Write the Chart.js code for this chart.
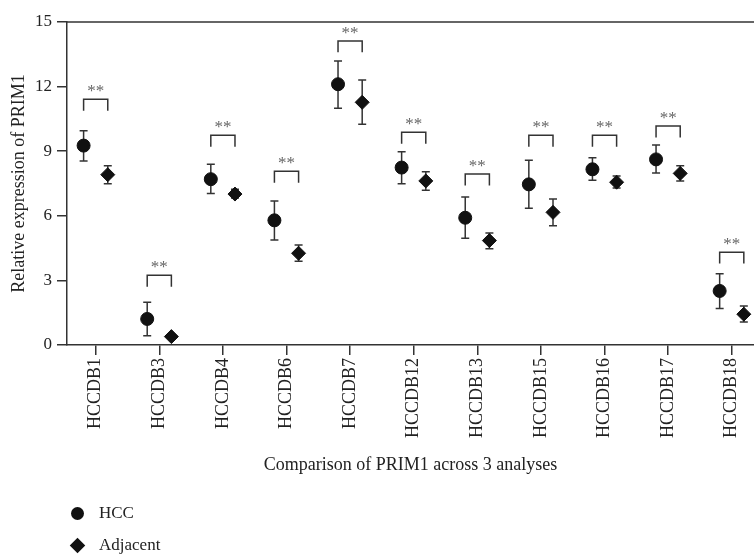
<!DOCTYPE html>
<html>
<head>
<meta charset="utf-8">
<script src="https://cdn.jsdelivr.net/npm/chart.js@4/dist/chart.umd.min.js"></script>
<style>
  html, body { margin: 0; background: #fff; overflow: hidden; }
  #wrap { position: relative; width: 754px; height: 554px; overflow: hidden; }
  #inner { position: absolute; left: 0; top: 0; width: 762px; height: 554px; }
  #legend { position: absolute; left: 70px; top: 497px; font-family: "Liberation Serif", serif; font-size: 17px; color: #222; }
  #legend div { display: flex; align-items: center; height: 32px; }
  .sym { width: 15px; height: 15px; margin-right: 14px; display: flex; align-items: center; justify-content: center; }
  .circ { width: 13px; height: 13px; border-radius: 50%; background: #111; }
  .diam { width: 11px; height: 11px; background: #111; transform: rotate(45deg); }
</style>
</head>
<body>
<div id="wrap">
  <div id="inner"><canvas id="myChart"></canvas></div>
  <div id="legend">
    <div><span class="sym"><span class="circ"></span></span>HCC</div>
    <div><span class="sym"><span class="diam"></span></span>Adjacent</div>
  </div>
</div>
<script>
const categories = ['HCCDB1', 'HCCDB3', 'HCCDB4', 'HCCDB6', 'HCCDB7', 'HCCDB12', 'HCCDB13', 'HCCDB15', 'HCCDB16', 'HCCDB17', 'HCCDB18'];
const hccMean  = [9.26, 1.21, 7.70, 5.79, 12.11, 8.24, 5.91, 7.46, 8.16, 8.62, 2.51];
const hccUpper = [9.95, 1.98, 8.39, 6.69, 13.19, 8.98, 6.87, 8.58, 8.70, 9.29, 3.31];
const hccLower = [8.55, 0.43, 7.03, 4.88, 10.99, 7.49, 4.96, 6.35, 7.65, 7.99, 1.69];
const adjMean  = [7.91, 0.39, 7.01, 4.26, 11.27, 7.62, 4.85, 6.16, 7.56, 7.97, 1.43];
const adjUpper = [8.33, 0.42, 7.23, 4.64, 12.31, 8.04, 5.20, 6.78, 7.85, 8.33, 1.81];
const adjLower = [7.49, 0.36, 6.83, 3.89, 10.25, 7.19, 4.47, 5.54, 7.29, 7.62, 1.07];
const bracketTop = [11.41, 3.24, 9.74, 8.07, 14.12, 9.88, 7.94, 9.74, 9.74, 10.17, 4.31];
const sigLabels = ['**', '**', '**', '**', '**', '**', '**', '**', '**', '**', '**'];
const yTicks = [0, 3, 6, 9, 12, 15];

const SHIFT = 0.19;
const serif = '"Liberation Serif", "Times New Roman", serif';

const errorBars = {
    id: 'errorBars',
    beforeDatasetsDraw(chart) {
        const { ctx, scales: { x, y } } = chart;
        ctx.save();
        ctx.strokeStyle = '#333';
        ctx.lineWidth = 1.5;
        const bar = (xv, lo, hi) => {
            const px = x.getPixelForValue(xv);
            const t = y.getPixelForValue(hi), b = y.getPixelForValue(lo);
            ctx.beginPath();
            ctx.moveTo(px, t); ctx.lineTo(px, b);
            ctx.moveTo(px - 4, t); ctx.lineTo(px + 4, t);
            ctx.moveTo(px - 4, b); ctx.lineTo(px + 4, b);
            ctx.stroke();
        };
        categories.forEach((c, i) => {
            bar(i - SHIFT, hccLower[i], hccUpper[i]);
            if (adjUpper[i] - adjLower[i] > 0.1) bar(i + SHIFT, adjLower[i], adjUpper[i]);
        });
        ctx.restore();
    },
    afterDraw(chart) {
        const { ctx, scales: { x, y } } = chart;
        ctx.save();
        ctx.strokeStyle = '#333';
        ctx.lineWidth = 1.5;
        categories.forEach((c, i) => {
            const x1 = x.getPixelForValue(i - SHIFT), x2 = x.getPixelForValue(i + SHIFT);
            const t = y.getPixelForValue(bracketTop[i]), b = y.getPixelForValue(bracketTop[i] - 0.53);
            ctx.beginPath();
            ctx.moveTo(x1, b); ctx.lineTo(x1, t); ctx.lineTo(x2, t); ctx.lineTo(x2, b);
            ctx.stroke();
            ctx.fillStyle = '#666';
            ctx.font = '17px ' + serif;
            ctx.textAlign = 'center';
            ctx.textBaseline = 'bottom';
            ctx.fillText(sigLabels[i], (x1 + x2) / 2, t + 1);
        });
        // top frame line
        ctx.beginPath();
        ctx.moveTo(chart.chartArea.left, chart.chartArea.top);
        ctx.lineTo(chart.chartArea.right, chart.chartArea.top);
        ctx.stroke();
        ctx.restore();
    }
};

const data = {
    datasets: [{
        label: 'HCC',
        data: hccMean.map((v, i) => ({ x: i - SHIFT, y: v })),
        pointStyle: 'circle',
        pointRadius: 6.5,
        backgroundColor: '#111',
        borderColor: '#111'
    },
    {
        label: 'Adjacent',
        data: adjMean.map((v, i) => ({ x: i + SHIFT, y: v })),
        pointStyle: 'rectRot',
        pointRadius: 7,
        backgroundColor: '#111',
        borderColor: '#111'
    }]
};

const config = {
    type: 'scatter',
    data,
    options: {
        responsive: true,
        maintainAspectRatio: false,
        animation: false,
        layout: { padding: { left: 8, top: 22, right: 0, bottom: 78 } },
        plugins: { legend: { display: false }, tooltip: { enabled: false } },
        scales: {
            x: {
                type: 'linear',
                min: -0.451,
                max: 10.35,
                afterBuildTicks: (s) => { s.ticks = categories.map((c, i) => ({ value: i })); },
                afterFit: (s) => { s.height = 131; },
                ticks: {
                    callback: (v) => categories[v],
                    minRotation: 90, maxRotation: 90,
                    color: '#222',
                    font: { family: serif, size: 18 },
                    padding: 3
                },
                grid: { drawOnChartArea: false, tickLength: 10, color: '#333', lineWidth: 1.5 },
                border: { color: '#333', width: 1.5 },
                title: {
                    display: true,
                    text: 'Comparison of PRIM1 across 3 analyses',
                    color: '#222',
                    font: { family: serif, size: 18 },
                    padding: { top: 0, bottom: 0 }
                }
            },
            y: {
                min: 0,
                max: 15,
                afterBuildTicks: (s) => { s.ticks = yTicks.map(v => ({ value: v })); },
                afterFit: (s) => { s.width = 59; },
                ticks: { color: '#222', font: { family: serif, size: 17 }, padding: 5 },
                grid: { drawOnChartArea: false, tickLength: 10, color: '#333', lineWidth: 1.5 },
                border: { color: '#333', width: 1.5 },
                title: {
                    display: true,
                    text: 'Relative expression of PRIM1',
                    color: '#222',
                    font: { family: serif, size: 18 },
                    padding: { top: 0, bottom: 4 }
                }
            }
        }
    },
    plugins: [errorBars]
};

const myChart = new Chart(
    document.getElementById('myChart'),
    config
);
</script>
</body>
</html>
